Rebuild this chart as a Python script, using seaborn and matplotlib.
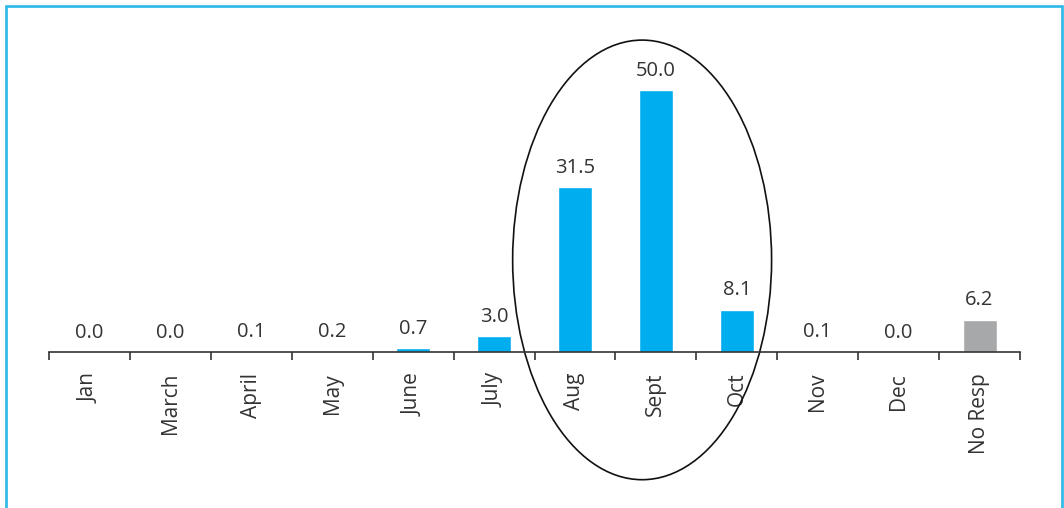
import matplotlib
matplotlib.use("Agg")
import matplotlib.pyplot as plt
import seaborn as sns
import pandas as pd
from matplotlib.patches import Ellipse
from matplotlib.lines import Line2D

categories = ["Jan", "March", "April", "May", "June", "July", "Aug", "Sept", "Oct", "Nov", "Dec", "No Resp"]
values = [0.0, 0.0, 0.1, 0.2, 0.7, 3.0, 31.5, 50.0, 8.1, 0.1, 0.0, 6.2]
labels = ["0.0", "0.0", "0.1", "0.2", "0.7", "3.0", "31.5", "50.0", "8.1", "0.1", "0.0", "6.2"]

BLUE = "#00AEEF"
GRAY = "#A7A8AA"
colors = [BLUE] * 11 + [GRAY]

sns.set_style("white")
plt.rcParams['font.family'] = ['Open Sans', 'DejaVu Sans']

df = pd.DataFrame({"cat": categories, "val": values})

fig = plt.figure(figsize=(10.64, 5.08), dpi=100)
ax = fig.add_axes([49/1064, 1 - 352/508, (1020-49)/1064, (352-38)/508])

sns.barplot(data=df, x="cat", y="val", hue="cat", palette=colors, width=0.42,
            legend=False, ax=ax, saturation=1)

ax.set_xlim(-0.5, len(categories) - 0.5)
ax.set_ylim(0, 60)

for i, (v, lab) in enumerate(zip(values, labels)):
    ax.text(i, v + 1.8, lab, ha="center", va="bottom", fontsize=14.5, color="#333333")

for s in ["top", "right", "left"]:
    ax.spines[s].set_visible(False)
ax.spines["bottom"].set_color("#333333")
ax.spines["bottom"].set_linewidth(1.2)
ax.set_yticks([])
ax.set_xlabel("")
ax.set_ylabel("")

ax.set_xticks(range(len(categories)))
ax.set_xticklabels(categories, rotation=90, fontsize=15, color="#333333", va="top")
ax.tick_params(axis="x", which="major", bottom=True, length=0, pad=15)
ax.set_xticks([i - 0.5 for i in range(len(categories) + 1)], minor=True)
ax.tick_params(axis="x", which="minor", bottom=True, length=6, width=1.2, color="#333333", direction="out")

ell = Ellipse((6.83, 17.6), width=3.2, height=84, fill=False, edgecolor="#111111",
              linewidth=1.2, clip_on=False)
ax.add_patch(ell)

bc = "#33BBEA"
fig.add_artist(Line2D([6/1064, 6/1064], [0, 1 - 6/508], transform=fig.transFigure, color=bc, linewidth=2))
fig.add_artist(Line2D([6/1064, 1062/1064], [1 - 6/508, 1 - 6/508], transform=fig.transFigure, color=bc, linewidth=2))
fig.add_artist(Line2D([1062/1064, 1062/1064], [0, 1 - 6/508], transform=fig.transFigure, color=bc, linewidth=2))

fig.savefig("out.png", dpi=100)
